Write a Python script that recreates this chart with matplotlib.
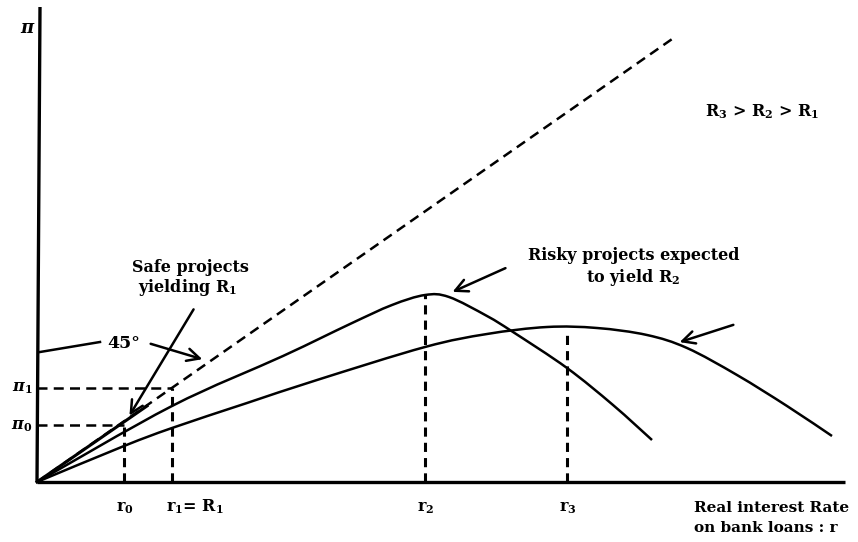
import numpy as np
import matplotlib.pyplot as plt
from matplotlib.path import Path
from matplotlib.patches import PathPatch

plt.rcParams['mathtext.fontset'] = 'dejavuserif'

# curve data (x = interest rate, y = profit, pixel-like units)
safe_x = [0, 110]
safe_y = [0, 76]
line45_x = [0, 638]
line45_y = [0, 445]
risky2_x = [0, 135, 246, 313, 355, 388, 412, 450, 476, 530, 576, 615]
risky2_y = [0, 76, 126, 158, 177, 187, 185, 166, 150, 114, 77, 42]
risky3_x = [0, 87, 135, 210, 280, 388, 450, 510, 560, 610, 650, 700, 750, 795]
risky3_y = [0, 36, 54, 79, 102, 135, 148, 155, 154, 147, 134, 107, 76, 46]

# marked rates and profits
r_marks = [87, 135, 388, 530]
r_tops = [57, 94, 187, 149]
r_labels = [r'r$_\mathbf{0}$', r'r$_\mathbf{1}$= R$_\mathbf{1}$', r'r$_\mathbf{2}$', r'r$_\mathbf{3}$']
pi_marks = [57, 94]
pi_ends = [87, 135]
pi_labels = [r'$\boldsymbol{\pi}_\mathbf{0}$', r'$\boldsymbol{\pi}_\mathbf{1}$']

SERIF = 'DejaVu Serif'


def smooth_path(xs, ys):
    # catmull-rom through the read points, drawn as bezier segments
    pts = np.column_stack([xs, ys]).astype(float)
    verts = [pts[0]]
    codes = [Path.MOVETO]
    n = len(pts)
    for i in range(n - 1):
        p0 = pts[i - 1] if i > 0 else pts[i]
        p1, p2 = pts[i], pts[i + 1]
        p3 = pts[i + 2] if i + 2 < n else pts[i + 1]
        verts += [p1 + (p2 - p0) / 6, p2 - (p3 - p1) / 6, p2]
        codes += [Path.CURVE4] * 3
    return Path(verts, codes)


def label(ax, x, y, s, size=11.5):
    ax.text(x, y, s, ha='center', va='center', fontsize=size,
            family=SERIF, fontweight='bold')


fig = plt.figure(figsize=(8.58, 5.42), dpi=100)
ax = fig.add_axes([0, 0, 1, 1])
ax.set_xlim(-37, 821)
ax.set_ylim(-60, 482)
ax.axis('off')

# axes
ax.plot([0, 3], [0, 475], color='black', lw=2.4, solid_capstyle='butt')
ax.plot([0, 808], [0, 0], color='black', lw=2.4, solid_capstyle='butt')

# curves
ax.plot(line45_x, line45_y, color='black', lw=1.8, dashes=(4, 2.5))
ax.plot(safe_x, safe_y, color='black', lw=2.2)
for xs, ys in [(risky2_x, risky2_y), (risky3_x, risky3_y)]:
    ax.add_patch(PathPatch(smooth_path(xs, ys), fill=False, color='black', lw=1.8))

# dashed guides
for x, top in zip(r_marks, r_tops):
    ax.plot([x, x], [0, top], color='black', lw=2.2, dashes=(3, 2))
for y, end in zip(pi_marks, pi_ends):
    ax.plot([0, end], [y, y], color='black', lw=1.8, dashes=(4, 2.5))

# rate and profit labels
for x, lab in zip(r_marks, r_labels):
    label(ax, x + (23 if '=' in lab else 1), -25, lab, 11.5)
for y, lab in zip(pi_marks, pi_labels):
    label(ax, -15, y, lab, 11.5)
label(ax, -9, 454, r'$\boldsymbol{\pi}$', 13)

label(ax, 735, -26, 'Real interest Rate', 11)
label(ax, 729, -46, 'on bank loans : r', 11)
label(ax, 725, 370, r'R$_\mathbf{3}$ > R$_\mathbf{2}$ > R$_\mathbf{1}$', 11.5)

arrow = dict(arrowstyle='->,head_length=0.9,head_width=0.45', color='black', lw=1.8)

# 45 degree annotation
ax.plot([3, 63], [130, 140], color='black', lw=1.8)
label(ax, 87, 139, '45°', 12.5)
ax.annotate('', xy=(168, 122), xytext=(111, 139), arrowprops=arrow)

# safe projects
label(ax, 153, 215, 'Safe projects')
label(ax, 151, 194, r'yielding R$_\mathbf{1}$')
ax.annotate('', xy=(91, 64), xytext=(158, 175), arrowprops=arrow)

# risky projects
label(ax, 597, 226, 'Risky projects expected')
label(ax, 596, 205, r'to yield R$_\mathbf{2}$')
ax.annotate('', xy=(413, 189), xytext=(471, 215), arrowprops=arrow)
ax.annotate('', xy=(640, 139), xytext=(699, 158), arrowprops=arrow)

fig.savefig('out.png', dpi=100)
